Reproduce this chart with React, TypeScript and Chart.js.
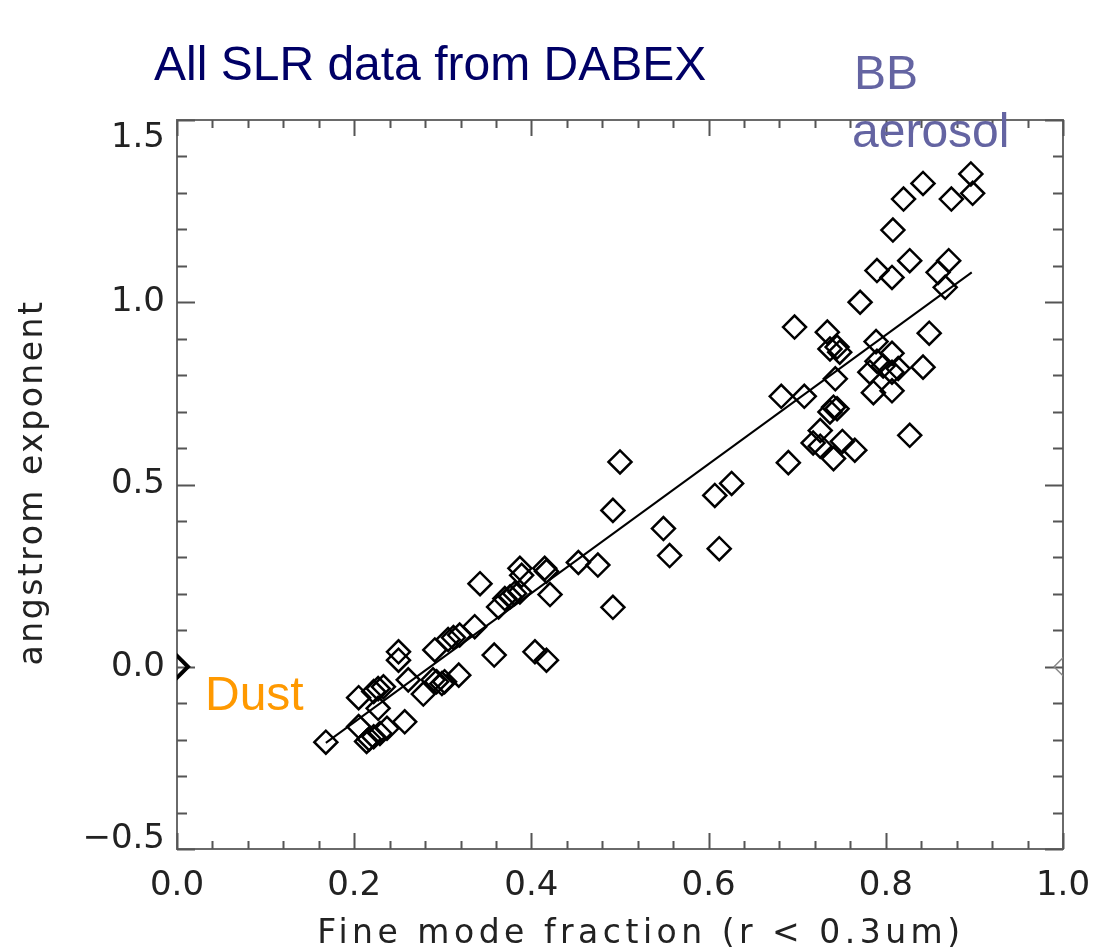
import React, { useEffect, useRef } from "react";
import { Chart, registerables } from "chart.js";

Chart.register(...registerables);

// Fine mode fraction (x) and Angstrom exponent (y) for every SLR sample
const fmfX = [
  0.168, 0.205, 0.214, 0.217, 0.222, 0.229, 0.237, 0.257, 0.227, 0.205,
  0.222, 0.227, 0.233, 0.261, 0.278, 0.289, 0.293, 0.299, 0.302, 0.318,
  0.25, 0.25, 0.291, 0.306, 0.312, 0.319, 0.336, 0.358, 0.342, 0.363,
  0.37, 0.376, 0.381, 0.387, 0.387, 0.389, 0.415, 0.417, 0.421, 0.404,
  0.417, 0.453, 0.475, 0.492, 0.492, 0.5, 0.549, 0.556, 0.607, 0.626,
  0.612, 0.682, 0.708, 0.69, 0.697, 0.734, 0.737, 0.745, 0.748, 0.743,
  0.741, 0.745, 0.737, 0.726, 0.718, 0.726, 0.751, 0.741, 0.765, 0.771,
  0.789, 0.807, 0.79, 0.797, 0.814, 0.782, 0.807, 0.786, 0.807, 0.842,
  0.849, 0.827, 0.79, 0.807, 0.827, 0.808, 0.82, 0.842, 0.874, 0.898,
  0.896, 0.871, 0.859, 0.867,
];
const angY = [
  -0.207, -0.164, -0.205, -0.198, -0.192, -0.183, -0.169, -0.151, -0.114, -0.085,
  -0.068, -0.06, -0.055, -0.036, -0.075, -0.036, -0.041, -0.046, -0.041, -0.023,
  0.041, 0.018, 0.046, 0.075, 0.08, 0.087, 0.11, 0.032, 0.228, 0.164,
  0.187, 0.192, 0.201, 0.205, 0.27, 0.251, 0.27, 0.262, 0.198, 0.041,
  0.018, 0.286, 0.279, 0.163, 0.429, 0.562, 0.379, 0.305, 0.47, 0.503,
  0.324, 0.742, 0.742, 0.56, 0.932, 0.918, 0.872, 0.877, 0.863, 0.79,
  0.712, 0.708, 0.699, 0.648, 0.614, 0.605, 0.618, 0.571, 0.594, 1.0,
  0.892, 0.86, 0.838, 0.825, 0.818, 0.808, 0.808, 0.752, 0.757, 0.822,
  0.915, 0.635, 1.087, 1.068, 1.114, 1.198, 1.283, 1.326, 1.283, 1.299,
  1.352, 1.114, 1.082, 1.041,
];

// Linear fit line end points
const fitX = [0.168, 0.897];
const fitY = [-0.209, 1.082];

// Markers sitting on the frame edges
const leftEdgeX = [0.0];
const leftEdgeY = [0.0];
const rightEdgeX = [1.0];
const rightEdgeY = [0.0];

// Axis ranges / tick steps
const xRange = [0, 1];
const yRange = [-0.5, 1.5];
const xStep = 0.2;
const yStep = 0.5;
const xMinorPerMajor = 5;
const yMinorPerMajor = 5;

const xTitle = "Fine mode fraction (r < 0.3um)";
const yTitle = "angstrom exponent";
const mainTitle = "All SLR data from DABEX";
const bbLines = ["BB", "aerosol"];
const dustLabel = "Dust";

const toPts = (xs: number[], ys: number[]) => xs.map((x, i) => ({ x, y: ys[i] }));

const fmtTick = (v: number) => {
  const s = Math.abs(v).toFixed(1);
  return v < -1e-9 ? "\u2212" + s : s;
};

const framePlugin = {
  id: "frame",
  beforeDatasetsDraw(chart: any) {
    const { ctx, chartArea: a, scales } = chart;
    const xs = scales.x;
    const ys = scales.y;
    ctx.save();
    ctx.strokeStyle = "#6a6a6a";
    ctx.lineWidth = 2;
    ctx.strokeRect(a.left, a.top, a.right - a.left, a.bottom - a.top);
    ctx.strokeStyle = "#555";
    ctx.beginPath();
    const nx = Math.round((xRange[1] - xRange[0]) / xStep) * xMinorPerMajor;
    for (let i = 0; i <= nx; i++) {
      const v = xRange[0] + (i * xStep) / xMinorPerMajor;
      const px = Math.round(xs.getPixelForValue(v)) + 0.5;
      const len = i % xMinorPerMajor === 0 ? 16 : 8;
      ctx.moveTo(px, a.bottom);
      ctx.lineTo(px, a.bottom - len);
      ctx.moveTo(px, a.top);
      ctx.lineTo(px, a.top + len);
    }
    const ny = Math.round((yRange[1] - yRange[0]) / yStep) * yMinorPerMajor;
    for (let i = 0; i <= ny; i++) {
      const v = yRange[0] + (i * yStep) / yMinorPerMajor;
      const py = Math.round(ys.getPixelForValue(v)) + 0.5;
      const len = i % yMinorPerMajor === 0 ? 18 : 10;
      ctx.moveTo(a.left, py);
      ctx.lineTo(a.left + len, py);
      ctx.moveTo(a.right, py);
      ctx.lineTo(a.right - len, py);
    }
    ctx.stroke();
    ctx.restore();
  },
  beforeDraw(chart: any) {
    const s: any = chart.scales.y;
    if (!s || !s.getLabelItems) return;
    const items = s.getLabelItems(chart.chartArea);
    for (const it of items) {
      if (it.__adj || !it.options || !it.options.translation) continue;
      const t = it.options.translation;
      if (it.label === "1.5") it.options.translation = [t[0], t[1] + 18];
      else if (it.label === "\u22120.5") it.options.translation = [t[0], t[1] - 10];
      it.__adj = true;
    }
  },
  afterDraw(chart: any) {
    const { ctx, chartArea: a } = chart;
    ctx.save();
    ctx.textAlign = "left";
    ctx.textBaseline = "alphabetic";
    ctx.font = '48px "Liberation Sans", Arial, sans-serif';
    ctx.fillStyle = "#000066";
    ctx.fillText(mainTitle, 154, 80);
    ctx.fillStyle = "#6464a2";
    ctx.fillText(bbLines[0], 854, 89);
    ctx.fillText(bbLines[1], 852, 147);
    ctx.fillStyle = "#ff9900";
    ctx.fillText(dustLabel, 205, 710);

    ctx.fillStyle = "#222";
    ctx.font = '33px "DejaVu Sans", sans-serif';
    (ctx as any).letterSpacing = "4.5px";
    ctx.textAlign = "center";
    ctx.fillText(xTitle, 641, 943);
    (ctx as any).letterSpacing = "2.5px";
    ctx.translate(33, (a.top + a.bottom) / 2 - 2);
    ctx.rotate(-Math.PI / 2);
    ctx.textBaseline = "middle";
    ctx.fillText(yTitle, 0, 0);
    ctx.restore();
  },
};

export default function App() {
  const ref = useRef<HTMLCanvasElement | null>(null);
  useEffect(() => {
    if (!ref.current) return;
    const chart = new Chart(ref.current, {
      type: "scatter",
      data: {
        datasets: [
          {
            label: "SLR",
            data: toPts(fmfX, angY),
            pointStyle: "rectRot",
            pointRadius: 11.5,
            pointBorderWidth: 2.5,
            borderColor: "#000",
            backgroundColor: "rgba(0,0,0,0)",
            showLine: false,
          },
          {
            label: "fit",
            data: toPts(fitX, fitY),
            showLine: true,
            pointRadius: 0,
            borderColor: "#000",
            borderWidth: 2,
          },
          {
            label: "edgeL",
            data: toPts(leftEdgeX, leftEdgeY),
            pointStyle: "rectRot",
            pointRadius: 11,
            pointBorderWidth: 4,
            borderColor: "#000",
            backgroundColor: "rgba(0,0,0,0)",
            clip: 0,
          } as any,
          {
            label: "edgeR",
            data: toPts(rightEdgeX, rightEdgeY),
            pointStyle: "rectRot",
            pointRadius: 9,
            pointBorderWidth: 1.5,
            borderColor: "#888",
            backgroundColor: "rgba(0,0,0,0)",
            clip: 0,
          } as any,
        ],
      },
      options: {
        responsive: false,
        animation: false,
        events: [],
        layout: { padding: { top: 120, right: 31, bottom: 0, left: 0 } },
        plugins: {
          legend: { display: false },
          tooltip: { enabled: false },
          title: { display: false },
        },
        scales: {
          x: {
            type: "linear",
            min: xRange[0],
            max: xRange[1],
            grid: { display: false, drawTicks: false },
            border: { display: false },
            ticks: {
              stepSize: xStep,
              padding: 17,
              color: "#222",
              font: { family: '"DejaVu Sans", sans-serif', size: 34 },
              maxRotation: 0,
              callback: (v: any) => fmtTick(Number(v)),
            },
            afterFit: (s: any) => {
              s.height = 102;
              s.paddingLeft = 0;
              s.paddingRight = 0;
            },
          },
          y: {
            type: "linear",
            min: yRange[0],
            max: yRange[1],
            grid: { display: false, drawTicks: false },
            border: { display: false },
            ticks: {
              stepSize: yStep,
              padding: 12,
              color: "#222",
              font: { family: '"DejaVu Sans", sans-serif', size: 34 },
              callback: (v: any) => fmtTick(Number(v)),
            },
            afterFit: (s: any) => {
              s.width = 177;
              s.paddingTop = 0;
              s.paddingBottom = 0;
            },
          },
        },
      },
      plugins: [framePlugin],
    });
    return () => chart.destroy();
  }, []);
  return (
    <div style={{ position: "absolute", left: 0, top: 0, width: 1094, height: 951, background: "#fff" }}>
      <canvas ref={ref} width={1094} height={951} style={{ display: "block" }} />
    </div>
  );
}
